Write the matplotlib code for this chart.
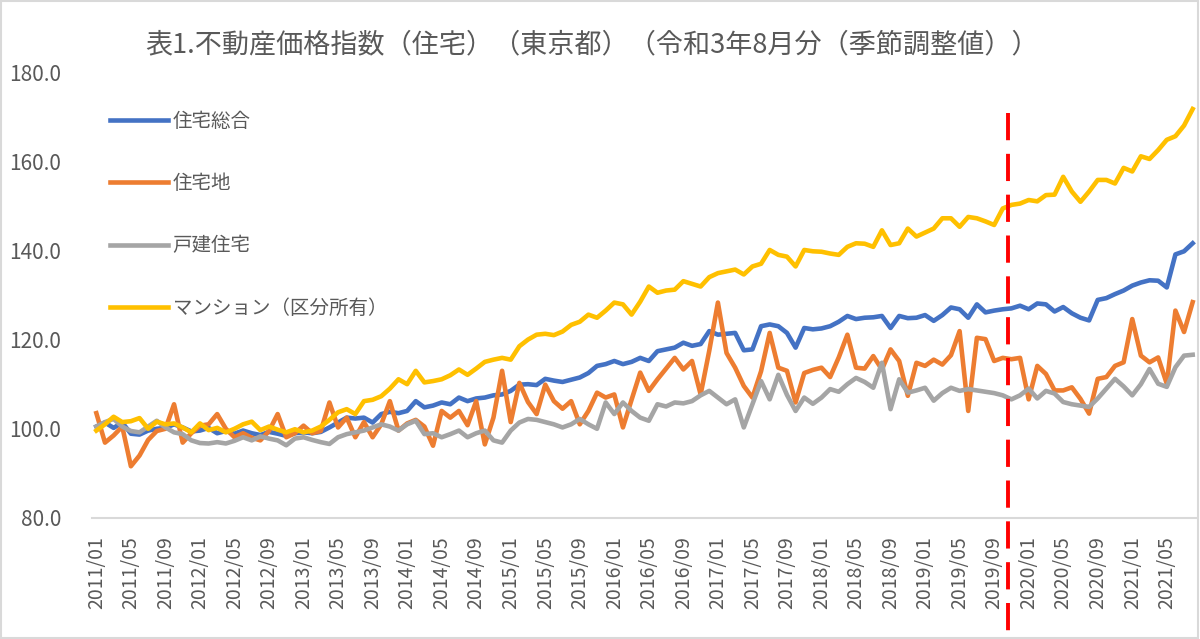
import matplotlib
matplotlib.use('Agg')
import matplotlib.pyplot as plt
import matplotlib.ticker as mticker
from matplotlib.patches import Rectangle
import pandas as pd

plt.rcParams['font.family'] = ['Noto Sans CJK JP', 'DejaVu Sans']

# monthly categories 2011/01 .. 2021/08
months = pd.date_range('2011-01-01', '2021-08-01', freq='MS').strftime('%Y/%m').tolist()

# 住宅総合
total = [100.5, 101.4, 100.2, 101.4, 98.9, 98.7, 99.6, 100.0, 100.2, 101.0,
         100.3, 99.4, 99.6, 100.2, 99.0, 99.5, 98.9, 99.6, 99.0, 98.6,
         99.3, 98.9, 98.4, 99.0, 99.2, 99.0, 99.3, 100.3, 101.4, 102.5,
         102.3, 102.5, 101.4, 103.3, 103.8, 103.5, 104.0, 106.2, 104.8, 105.2,
         105.9, 105.5, 107.0, 106.2, 106.8, 107.0, 107.5, 107.7, 108.5, 109.9,
         110.0, 109.8, 111.2, 110.8, 110.5, 111.0, 111.5, 112.5, 114.1, 114.5,
         115.2, 114.5, 115.0, 115.9, 115.2, 117.4, 117.8, 118.2, 119.3, 118.6,
         119.0, 121.9, 121.1, 121.3, 121.5, 117.6, 117.8, 123.0, 123.4, 123.0,
         121.5, 118.2, 122.6, 122.3, 122.5, 123.0, 124.0, 125.3, 124.6, 124.9,
         125.0, 125.3, 122.6, 125.3, 124.8, 124.9, 125.5, 124.2, 125.5, 127.2,
         126.8, 124.9, 127.9, 126.1, 126.5, 126.8, 127.0, 127.6, 126.8, 128.1,
         127.9, 126.3, 127.3, 125.9, 124.9, 124.3, 128.9, 129.3, 130.2, 131.0,
         132.1, 132.8, 133.3, 133.2, 131.7, 139.1, 139.8, 141.6]

# 住宅地
land = [103.5, 96.9, 98.5, 100.5, 91.6, 94.0, 97.5, 99.5, 100.0, 105.5,
        96.9, 99.0, 100.7, 101.0, 103.3, 100.0, 98.1, 99.0, 98.0, 97.4,
        99.5, 103.3, 98.1, 99.0, 100.7, 99.0, 99.5, 105.9, 100.3, 102.5,
        98.1, 101.5, 98.1, 101.0, 106.2, 99.6, 101.2, 102.0, 100.5, 96.2,
        104.0, 102.5, 104.0, 100.8, 106.2, 96.5, 102.5, 113.0, 101.5, 110.3,
        106.0, 103.3, 109.9, 106.2, 104.5, 106.2, 101.0, 104.0, 108.1, 107.0,
        107.7, 100.3, 106.5, 112.6, 108.5, 111.1, 113.5, 115.9, 113.3, 115.2,
        107.7, 117.5, 128.3, 117.0, 113.7, 109.6, 107.0, 112.9, 121.5, 113.7,
        113.0, 105.9, 112.5, 113.2, 113.7, 111.6, 116.0, 121.1, 113.7, 113.5,
        116.3, 113.3, 117.8, 115.2, 107.4, 114.8, 114.1, 115.5, 114.4, 116.5,
        121.9, 104.0, 120.4, 120.1, 115.2, 115.9, 115.6, 115.9, 106.6, 114.1,
        112.3, 108.6, 108.6, 109.3, 106.7, 103.4, 111.2, 111.6, 114.1, 114.9,
        124.6, 116.4, 114.9, 116.0, 110.1, 126.5, 121.7, 128.4]

# 戸建住宅
house = [100.5, 101.5, 102.2, 100.5, 99.5, 99.2, 100.5, 101.8, 100.3, 99.2,
         98.8, 97.4, 96.8, 96.7, 97.0, 96.7, 97.3, 98.1, 97.4, 98.3,
         97.8, 97.4, 96.3, 97.8, 98.1, 97.5, 97.0, 96.6, 98.1, 98.8,
         99.2, 99.6, 100.3, 101.0, 100.5, 99.6, 101.0, 101.8, 98.8, 99.0,
         98.1, 98.8, 99.6, 98.1, 99.0, 99.6, 97.4, 96.9, 99.6, 101.4,
         102.2, 102.0, 101.5, 101.0, 100.3, 101.0, 102.2, 101.0, 100.0, 105.9,
         103.3, 105.9, 104.0, 102.5, 101.8, 105.5, 105.0, 105.9, 105.7, 106.2,
         107.5, 108.5, 107.0, 105.5, 106.6, 100.3, 105.5, 110.7, 106.6, 112.1,
         107.6, 104.0, 107.0, 105.6, 107.0, 108.9, 108.3, 110.0, 111.4, 110.5,
         109.2, 114.8, 104.4, 111.1, 108.1, 108.6, 109.2, 106.3, 108.0, 109.2,
         108.5, 108.9, 108.6, 108.3, 108.0, 107.5, 106.6, 107.5, 109.0, 106.8,
         108.5, 107.9, 106.0, 105.5, 105.2, 104.9, 106.8, 109.0, 111.2, 109.5,
         107.5, 110.0, 113.4, 110.1, 109.4, 113.8, 116.4, 116.6]

# マンション（区分所有）
condo = [99.6, 101.0, 102.7, 101.5, 101.7, 102.4, 100.0, 101.6, 101.0, 101.2,
         100.3, 99.2, 101.2, 99.7, 100.2, 99.2, 100.0, 101.0, 101.6, 99.7,
         100.5, 99.8, 99.2, 99.9, 99.2, 99.6, 100.5, 102.0, 103.7, 104.4,
         103.3, 106.2, 106.5, 107.3, 109.0, 111.1, 110.0, 113.0, 110.4, 110.7,
         111.1, 112.0, 113.3, 112.1, 113.5, 115.0, 115.5, 115.9, 115.5, 118.5,
         120.0, 121.1, 121.3, 121.0, 121.8, 123.3, 124.0, 125.6, 124.9, 126.5,
         128.3, 127.9, 125.6, 128.5, 131.9, 130.5, 131.0, 131.2, 133.1, 132.5,
         131.9, 134.0, 134.9, 135.3, 135.7, 134.6, 136.4, 137.0, 140.1, 139.0,
         138.6, 136.4, 140.1, 139.8, 139.7, 139.3, 139.0, 140.8, 141.6, 141.5,
         140.8, 144.5, 141.2, 141.6, 144.9, 143.1, 144.0, 144.9, 147.2, 147.2,
         145.3, 147.5, 147.2, 146.5, 145.7, 149.4, 150.2, 150.5, 151.3, 151.0,
         152.4, 152.5, 156.5, 153.2, 150.9, 153.2, 155.8, 155.8, 155.0, 158.5,
         157.7, 161.1, 160.5, 162.5, 164.8, 165.6, 168.0, 171.7]

labels = ['住宅総合', '住宅地', '戸建住宅', 'マンション（区分所有）']
colors = ['#4472C4', '#ED7D31', '#A5A5A5', '#FFC000']
title = '表1.不動産価格指数（住宅）（東京都）（令和3年8月分（季節調整値））'
tax_hike = '2019/10'

fig = plt.figure(figsize=(12, 6.39), dpi=100)
ax = fig.add_axes([0.0767, 0.1894, 0.9208, 0.6979])

x = list(range(len(months)))
for ys, lab, c in zip([total, land, house, condo], labels, colors):
    ax.plot(x, ys, color=c, lw=3.3, label=lab, solid_joinstyle='round')

# red dashed marker line (extends below the axis)
xv = months.index(tax_hike) + 0.6
ax.plot([xv, xv], [0.908, -0.262], color='#FF0000', lw=2.8, ls=(0, (7, 3.5)),
        transform=ax.get_xaxis_transform(), clip_on=False, zorder=5)

ax.set_xlim(-0.5, len(months) - 0.5)
ax.set_ylim(80, 180)
ax.set_yticks([80, 100, 120, 140, 160, 180])
ax.yaxis.set_major_formatter(mticker.FormatStrFormatter('%.1f'))
ax.set_xticks(x[::4])
ax.set_xticklabels(months[::4], rotation=90)
ax.tick_params(axis='x', length=0, pad=13, labelsize=14, labelcolor='#595959')
ax.tick_params(axis='y', length=0, pad=22, labelsize=15, labelcolor='#595959')

for s in ['top', 'right', 'left']:
    ax.spines[s].set_visible(False)
ax.spines['bottom'].set_color('#D9D9D9')
ax.spines['bottom'].set_linewidth(1.5)

leg = ax.legend(loc='upper left', bbox_to_anchor=(0.0, 0.952), frameon=False,
                fontsize=14, labelspacing=2.12, handlelength=3.0, handletextpad=0.25)
for t in leg.get_texts():
    t.set_color('#595959')

fig.text(0.493, 0.93, title, ha='center', va='center', fontsize=19.5, color='#595959')

fig.patches.append(Rectangle((0.001, 0.001), 0.997, 0.997, transform=fig.transFigure,
                             fill=False, edgecolor='#D9D9D9', lw=1.5))

fig.savefig('out.png', dpi=100)
